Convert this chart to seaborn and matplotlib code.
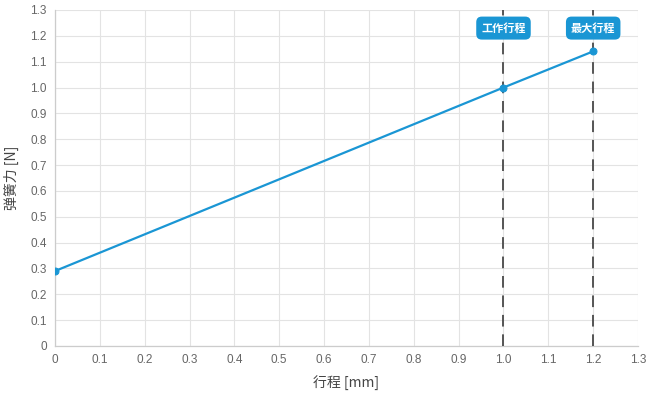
import matplotlib
matplotlib.use("Agg")
import matplotlib.pyplot as plt
import seaborn as sns
import pandas as pd
import numpy as np

# data
stroke_mm = [0.0, 1.0, 1.2]
force_n = [0.29, 1.0, 1.14]
marker_x = [1.0, 1.2]
marker_labels = ["工作行程", "最大行程"]
ticks = [round(0.1 * i, 1) for i in range(14)]
tick_labels = ["0"] + [f"{t:.1f}" for t in ticks[1:]]

LINE_COLOR = "#1a96d4"

sns.set_theme(style="whitegrid")
plt.rcParams['font.family'] = ['Noto Sans CJK SC', 'DejaVu Sans']

df = pd.DataFrame({"stroke": stroke_mm, "force": force_n})

fig = plt.figure(figsize=(6.5, 4), dpi=100)
ax = fig.add_axes([0.0846, 0.135, 0.897, 0.84])

sns.lineplot(data=df, x="stroke", y="force", ax=ax, color=LINE_COLOR,
             linewidth=1.6, marker="o", markersize=5,
             markeredgecolor=LINE_COLOR, zorder=4)

for xv, lbl in zip(marker_x, marker_labels):
    ax.axvline(xv, color="#555555", linestyle=(0, (6, 4)), linewidth=1.4, zorder=3)
    ax.text(xv, 1.23, lbl, ha="center", va="center", color="white",
            fontsize=8, fontweight="bold", zorder=5,
            bbox=dict(boxstyle="round,pad=0.45,rounding_size=0.5",
                      fc=LINE_COLOR, ec="none"))

ax.set_xlim(0, 1.3)
ax.set_ylim(0, 1.3)
ax.set_xticks(ticks)
ax.set_xticklabels(tick_labels, family=['Liberation Sans', 'DejaVu Sans'])
ax.set_yticks(ticks)
ax.set_yticklabels(tick_labels, family=['Liberation Sans', 'DejaVu Sans'])
ax.tick_params(axis="both", labelsize=8.5, colors="#666666", length=0, pad=6)
ax.grid(True, color="#e3e3e3", linewidth=0.8)
for s in ["top", "right"]:
    ax.spines[s].set_visible(False)
for s in ["left", "bottom"]:
    ax.spines[s].set_color("#cccccc")
    ax.spines[s].set_linewidth(0.9)

ax.set_xlabel("行程 [mm]", fontsize=10, color="#444444", labelpad=7)
ax.set_ylabel("弹簧力 [N]", fontsize=10, color="#444444", labelpad=8)

fig.savefig("out.png", dpi=100)
